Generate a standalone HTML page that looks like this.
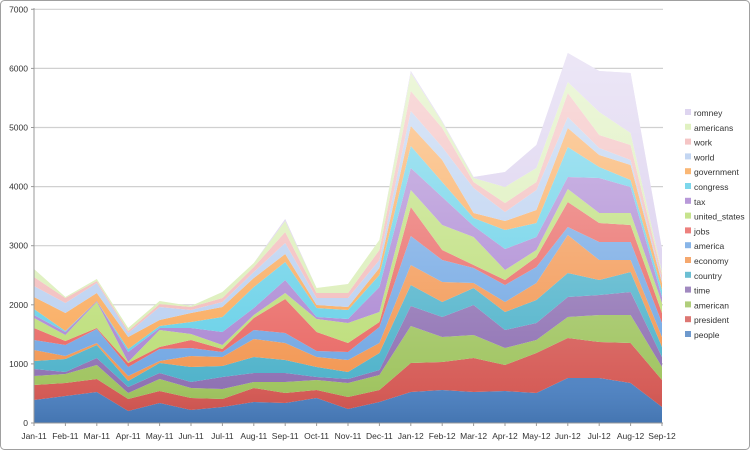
<!DOCTYPE html>
<html><head><meta charset="utf-8"><style>
html,body{margin:0;padding:0;background:#fff;}
svg{display:block;font-family:"Liberation Sans",sans-serif;}
</style></head><body>
<svg id="c" width="750" height="450" xmlns="http://www.w3.org/2000/svg">
<defs>
<linearGradient id="ov" gradientUnits="userSpaceOnUse" x1="0" y1="50" x2="0" y2="423">
<stop offset="0" stop-color="#fff" stop-opacity="0.55"/>
<stop offset="0.6" stop-color="#fff" stop-opacity="0.22"/>
<stop offset="0.9" stop-color="#fff" stop-opacity="0.05"/>
<stop offset="1" stop-color="#000" stop-opacity="0.08"/>
</linearGradient>
</defs>
<rect x="0.5" y="0.5" width="749" height="449" rx="4" fill="#fff" stroke="#a0a0a0"/>
<g id="grid"></g>
<g id="areas"></g>
<g id="axes"></g>
<g id="legend"></g>
</svg>
<script>
var NS="http://www.w3.org/2000/svg";
function el(t,a,p,txt){var e=document.createElementNS(NS,t);for(var k in a)e.setAttribute(k,a[k]);if(txt!=null)e.textContent=txt;document.getElementById(p).appendChild(e);return e;}
var x0=34,dx=31.4,y0=423,sc=0.0591;
var T=[
[400,385,376,369,361,350,340,328,318,315,309,297,286,277,269,269],
[396,383,374,372,359,356,345,341,335,332,331,313,303,298,297,297],
[392,379,365,358,345,343,329,328,302,301,301,293,283,281,279,279],
[411,399,393,387,381,376,367,363,362,352,349,337,333,331,328,328],
[403,391,379,373,363,361,349,347,330,328,326,320,307,304,301,301],
[410,398,388,382,367,356,348,340,334,328,322,313,310,307,306,306],
[407,399,389,377,366,357,352,349,345,332,317,307,302,298,292,292],
[402,388,382,373,357,339,330,318,315,308,287,278,272,267,263,263],
[403,393,382,373,360,343,333,299,293,280,262,254,243,232,221,219],
[398,390,380,377,367,357,351,332,319,317,308,305,298,293,288,288],
[409,397,383,379,372,360,352,343,323,319,310,307,298,293,284,284],
[402,390,375,370,353,343,327,322,312,287,275,268,260,250,240,240],
[392,363,326,306,285,265,236,207,190,168,146,126,111,91,73,71],
[390,362,337,317,302,282,260,250,225,197,182,160,147,128,122,121],
[392,358,335,305,288,283,268,265,237,226,218,213,188,182,178,177],
[391,365,348,330,312,302,285,280,270,249,230,221,212,203,187,172],
[393,353,340,323,300,283,267,257,250,237,223,210,190,182,168,145],
[378,338,317,297,273,235,227,202,189,177,147,128,117,93,82,53],
[378,342,315,295,280,260,242,223,213,178,167,155,148,135,112,71],
[383,343,315,292,272,260,242,225,213,187,180,165,160,145,133,73],
[407,380,367,357,347,337,323,313,303,297,290,283,280,275,272,249]];
var cols=["#4a7fc0","#d45550","#9cc25a","#8a6bb0","#47afc8","#f2924a","#6aa2e2","#e8605c","#b8dc70","#a680d0","#5ccde6","#f9a552","#b4ccef","#f2b6b6","#d8edb2","#d6caec"];
var names=["people","president","american","time","country","economy","america","jobs","united_states","tax","congress","government","world","work","americans","romney"];
for(var v=0;v<=7000;v+=1000){var y=y0-v*sc;
 if(v>0)el("line",{x1:x0,x2:663,y1:y,y2:y,stroke:"#d0d0d0","stroke-width":1.2},"grid");
 el("text",{x:28,y:y+3,"font-size":"8.5","text-anchor":"end",fill:"#333"},"axes",v);
 el("line",{x1:x0-3,x2:x0,y1:y,y2:y,stroke:"#999"},"axes");}
var mons=["Jan-11","Feb-11","Mar-11","Apr-11","May-11","Jun-11","Jul-11","Aug-11","Sep-11","Oct-11","Nov-11","Dec-11","Jan-12","Feb-12","Mar-12","Apr-12","May-12","Jun-12","Jul-12","Aug-12","Sep-12"];
for(var s=0;s<16;s++){
 var pts=[];
 for(var i=0;i<21;i++)pts.push((x0+dx*i).toFixed(1)+","+T[i][s]);
 for(var i=20;i>=0;i--)pts.push((x0+dx*i).toFixed(1)+","+(s==0?y0:T[i][s-1]));
 el("polygon",{points:pts.join(" "),fill:cols[s]},"areas");
}
var all=[];for(var i=0;i<21;i++)all.push((x0+dx*i).toFixed(1)+","+T[i][15]);
all.push("662,"+y0,x0+","+y0);
el("polygon",{points:all.join(" "),fill:"url(#ov)"},"areas");
el("line",{x1:x0,x2:x0,y1:8,y2:y0,stroke:"#999"},"axes");
el("line",{x1:x0,x2:663,y1:y0,y2:y0,stroke:"#999"},"axes");
for(var i=0;i<21;i++){var x=x0+dx*i;
 el("line",{x1:x,x2:x,y1:y0,y2:y0+3,stroke:"#999"},"axes");
 el("text",{x:x,y:439,"font-size":"8.5","text-anchor":"middle",fill:"#333"},"axes",mons[i]);}
for(var s=15;s>=0;s--){var k=15-s;var y=113+k*14.8;
 el("rect",{x:685,y:y-4,width:6,height:6,fill:cols[s],opacity:0.8},"legend");
 el("text",{x:694,y:y+3,"font-size":"8.5",fill:"#333"},"legend",names[s]);}
</script>
</body></html>
